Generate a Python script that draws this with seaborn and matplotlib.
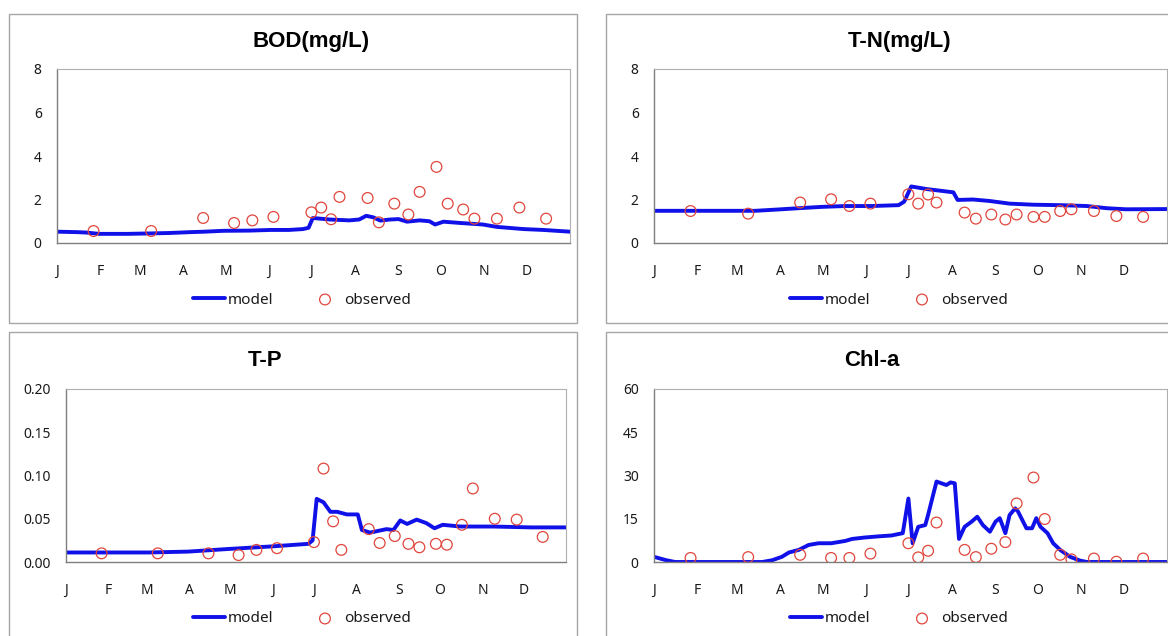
import matplotlib
matplotlib.use("Agg")
import matplotlib.pyplot as plt
from matplotlib.patches import Rectangle
import seaborn as sns

# month labels at month starts (day of year)
month_days = [0, 31, 59, 90, 120, 151, 181, 212, 243, 273, 304, 334]
month_labels = ["J", "F", "M", "A", "M", "J", "J", "A", "S", "O", "N", "D"]

# sampling days of the observed values (shared by all panels)
obs_days = [26, 67, 104, 126, 139, 154, 181, 188, 195, 201, 221, 229,
            240, 250, 258, 270, 278, 289, 297, 313, 329, 348]

# BOD(mg/L)
bod_obs = [0.55, 0.55, 1.15, 0.92, 1.04, 1.2, 1.41, 1.63, 1.09, 2.12, 2.07, 0.95,
           1.81, 1.31, 2.35, 3.5, 1.81, 1.54, 1.12, 1.12, 1.63, 1.12]
bod_model_days = [0, 14, 21, 30, 50, 66, 80, 95, 105, 118, 137, 152, 165, 175, 179,
                  182, 194, 208, 215, 220, 225, 230, 237, 243, 249, 258, 265, 269,
                  275, 287, 303, 313, 332, 346, 365]
bod_model = [0.52, 0.5, 0.48, 0.42, 0.42, 0.44, 0.46, 0.5, 0.52, 0.56, 0.57, 0.6, 0.6,
             0.64, 0.7, 1.15, 1.08, 1.04, 1.08, 1.25, 1.18, 1.03, 1.08, 1.1, 0.98,
             1.04, 1.0, 0.85, 0.98, 0.92, 0.85, 0.74, 0.64, 0.6, 0.52]

# T-N(mg/L)
tn_obs = [1.47, 1.35, 1.86, 2.01, 1.7, 1.81, 2.24, 1.81, 2.23, 1.86, 1.4, 1.12,
          1.31, 1.08, 1.31, 1.2, 1.2, 1.47, 1.55, 1.47, 1.24, 1.2]
tn_model_days = [0, 72, 88, 103, 119, 136, 155, 174, 178, 183, 194, 213, 216, 227,
                 239, 253, 270, 289, 308, 322, 336, 365]
tn_model = [1.48, 1.48, 1.54, 1.6, 1.66, 1.7, 1.7, 1.74, 1.9, 2.6, 2.48, 2.33, 1.98,
            2.0, 1.93, 1.81, 1.76, 1.74, 1.7, 1.6, 1.55, 1.56]

# T-P
tp_obs = [0.010, 0.010, 0.010, 0.008, 0.014, 0.016, 0.023, 0.108, 0.047, 0.014,
          0.038, 0.022, 0.030, 0.021, 0.017, 0.021, 0.020, 0.043, 0.085, 0.050,
          0.049, 0.029]
tp_model_days = [0, 60, 89, 118, 150, 177, 180, 183, 188, 193, 198, 205, 213, 216,
                 222, 234, 239, 244, 249, 256, 263, 269, 275, 288, 312, 340, 365]
tp_model = [0.011, 0.011, 0.012, 0.015, 0.018, 0.021, 0.025, 0.073, 0.069, 0.058,
            0.058, 0.055, 0.055, 0.037, 0.034, 0.038, 0.037, 0.048, 0.044, 0.049,
            0.045, 0.039, 0.043, 0.041, 0.041, 0.040, 0.040]

# Chl-a
chl_obs = [1.4, 1.7, 2.5, 1.4, 1.4, 2.9, 6.5, 1.6, 3.9, 13.7, 4.2, 1.7, 4.6, 6.9,
           20.3, 29.3, 14.9, 2.5, 0.9, 1.2, 0.1, 1.2]
chl_model_days = [0, 8, 15, 77, 84, 91, 96, 103, 110, 117, 126, 136, 141, 150, 160,
                  169, 177, 181, 184, 188, 193, 195, 201, 208, 211, 214, 217, 221,
                  226, 230, 234, 239, 243, 246, 250, 253, 257, 259, 262, 265, 269,
                  272, 275, 280, 284, 289, 296, 303, 308, 365]
chl_model = [1.8, 0.7, 0.0, 0.0, 0.6, 1.8, 3.3, 4.2, 5.9, 6.5, 6.5, 7.3, 8.0, 8.5,
             8.9, 9.2, 10.0, 22.0, 6.5, 12.2, 12.8, 16.3, 27.9, 26.7, 27.6, 27.3,
             8.0, 12.2, 14.0, 15.7, 12.8, 10.5, 14.0, 15.2, 10.0, 16.3, 18.6, 17.5,
             14.6, 11.7, 11.7, 15.2, 12.2, 10.0, 6.5, 4.2, 1.8, 0.5, 0.0, 0.0]

panels = [
    dict(title="BOD(mg/L)", days=bod_model_days, model=bod_model, obs=bod_obs,
         yticks=[0, 2, 4, 6, 8], fmt="{:.0f}",
         pos=[57, 69, 570, 243], box=[9, 14, 577, 323], title_xy=(311, 42), leg_xy=(302, 300)),
    dict(title="T-N(mg/L)", days=tn_model_days, model=tn_model, obs=tn_obs,
         yticks=[0, 2, 4, 6, 8], fmt="{:.0f}",
         pos=[654, 69, 1167, 243], box=[606, 14, 1180, 323], title_xy=(900, 42), leg_xy=(899, 300)),
    dict(title="T-P", days=tp_model_days, model=tp_model, obs=tp_obs,
         yticks=[0, 0.05, 0.10, 0.15, 0.20], fmt="{:.2f}",
         pos=[66, 389, 566, 562], box=[9, 332, 577, 650], title_xy=(265, 360), leg_xy=(302, 619)),
    dict(title="Chl-a", days=chl_model_days, model=chl_model, obs=chl_obs,
         yticks=[0, 15, 30, 45, 60], fmt="{:.0f}",
         pos=[654, 389, 1167, 562], box=[606, 332, 1180, 650], title_xy=(872, 360), leg_xy=(899, 619)),
]

W, H = 1168, 636
sns.set_style("white")
plt.rcParams["font.family"] = ["Noto Sans", "DejaVu Sans"]
plt.rcParams["text.color"] = "#1a1a1a"

fig = plt.figure(figsize=(W / 100, H / 100), dpi=100)

for p in panels:
    # border around each chart
    x0, y0, x1, y1 = p["box"]
    fig.patches.append(Rectangle((x0 / W, 1 - y1 / H), (x1 - x0) / W, (y1 - y0) / H,
                                 transform=fig.transFigure, fill=False,
                                 edgecolor="#a6a6a6", lw=1.0))

    l, t, r, b = p["pos"]
    ax = fig.add_axes([l / W, 1 - b / H, (r - l) / W, (b - t) / H])

    sns.lineplot(x=p["days"], y=p["model"], ax=ax, color="#1010e8", lw=2.8,
                 estimator=None, sort=False, label="model")
    sns.scatterplot(x=obs_days, y=p["obs"], ax=ax, marker="o", s=60,
                    facecolor="none", edgecolor="#e0463c", linewidth=0.9,
                    label="observed", zorder=3)

    ax.set_xlim(0, 365)
    ax.set_ylim(p["yticks"][0], p["yticks"][-1])
    ax.set_xticks(month_days)
    ax.set_xticklabels(month_labels)
    ax.set_yticks(p["yticks"])
    ax.set_yticklabels([p["fmt"].format(v) for v in p["yticks"]])
    ax.tick_params(axis="x", direction="in", length=4, width=0.8, color="#707070",
                   pad=15, labelsize=10, labelcolor="#1a1a1a")
    ax.tick_params(axis="y", direction="in", length=3, width=0.8, color="#707070",
                   pad=11, labelsize=10, labelcolor="#1a1a1a")
    for side in ["left", "bottom"]:
        ax.spines[side].set_color("#7f7f7f")
        ax.spines[side].set_linewidth(1.0)
    for side in ["top", "right"]:
        ax.spines[side].set_color("#b0b0b0")
        ax.spines[side].set_linewidth(0.8)
    ax.set_xlabel("")
    ax.set_ylabel("")

    tx, ty = p["title_xy"]
    fig.text(tx / W, 1 - ty / H, p["title"], ha="center", va="center", color="black",
             fontsize=16, fontweight="bold", family=["Liberation Sans", "DejaVu Sans"])

    lx, ly = p["leg_xy"]
    ax.legend(loc="center", bbox_to_anchor=(lx / W, 1 - ly / H),
              bbox_transform=fig.transFigure, ncol=2, frameon=False,
              fontsize=11, handlelength=2.1, handletextpad=0.2,
              columnspacing=2.3, borderaxespad=0)

fig.savefig("out.png", dpi=100)
